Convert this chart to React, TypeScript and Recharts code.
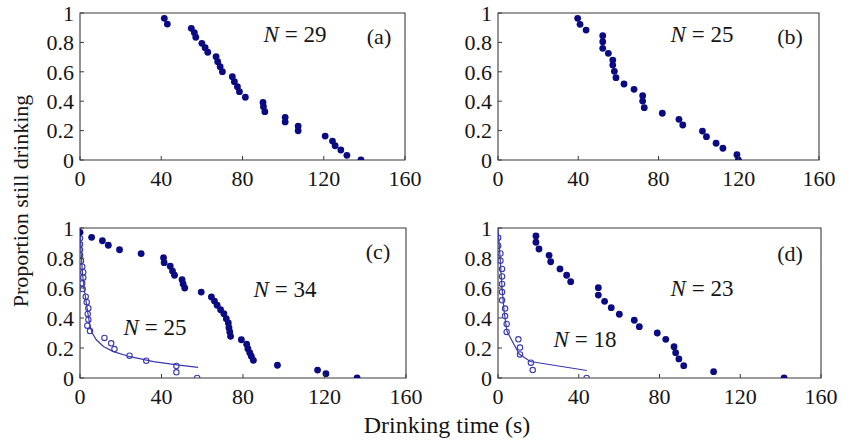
import React from 'react';
import { ScatterChart, Scatter, XAxis, YAxis, ReferenceArea } from 'recharts';

const FONT = '"Liberation Serif", "Times New Roman", serif';
const NAVY = '#0a0a82';
const BLUE = '#3a3aae';
const INK = '#151515';
const FRAME = '#3a3a3a';

const xTicks = [0, 40, 80, 120, 160];
const yTicks = [0, 0.2, 0.4, 0.6, 0.8, 1];

// Panel (a) N = 29
const aTime = [41.5, 43.0, 54.8, 56.3, 57.0, 60.0, 61.6, 62.9, 67.0, 67.8, 69.0, 70.1, 75.0, 76.0, 77.5, 78.5, 81.4, 90.1, 90.3, 91.0, 101.0, 101.0, 107.4, 107.4, 120.7, 124.3, 125.6, 128.4, 131.4, 138.3];
const aProp = [0.964, 0.925, 0.896, 0.866, 0.835, 0.794, 0.764, 0.733, 0.703, 0.669, 0.635, 0.601, 0.567, 0.533, 0.499, 0.465, 0.427, 0.392, 0.363, 0.329, 0.29, 0.259, 0.231, 0.199, 0.163, 0.129, 0.097, 0.068, 0.032, 0];

// Panel (b) N = 25
const bTime = [39.7, 40.9, 43.9, 52.2, 52.2, 52.2, 55.0, 57.2, 57.2, 58.0, 58.8, 62.8, 67.8, 72.1, 72.1, 72.9, 81.9, 90.2, 92.1, 101.9, 103.9, 108.7, 112.1, 119.1, 119.8];
const bProp = [0.964, 0.923, 0.884, 0.846, 0.805, 0.76, 0.726, 0.68, 0.646, 0.603, 0.56, 0.517, 0.481, 0.437, 0.401, 0.356, 0.318, 0.277, 0.238, 0.197, 0.159, 0.114, 0.08, 0.036, 0];

// Panel (c) filled, N = 34
const cTime = [0, 5.7, 11.0, 13.9, 19.4, 30.0, 41.0, 41.3, 44.3, 45.4, 46.4, 50.1, 50.6, 51.4, 59.5, 64.5, 66.0, 67.3, 69.0, 70.6, 71.8, 72.8, 73.1, 73.5, 73.9, 79.2, 81.8, 82.4, 83.3, 84.1, 85.1, 96.9, 116.6, 120.7, 136.0];
const cProp = [0.971, 0.938, 0.915, 0.885, 0.855, 0.829, 0.802, 0.769, 0.745, 0.713, 0.685, 0.655, 0.627, 0.6, 0.573, 0.54, 0.513, 0.485, 0.455, 0.429, 0.395, 0.367, 0.335, 0.307, 0.278, 0.255, 0.225, 0.195, 0.169, 0.145, 0.118, 0.085, 0.053, 0.029, 0];

// Panel (c) open, N = 25
const cOpenTime = [0, 0, 0, 0, 0.5, 1.1, 1.6, 1.6, 1.1, 1.3, 2.8, 3.3, 4.1, 3.8, 4.1, 3.6, 4.9, 12.0, 15.3, 16.9, 24.3, 32.5, 47.3, 47.3, 57.5];
const cOpenProp = [0.931, 0.891, 0.855, 0.82, 0.78, 0.742, 0.705, 0.669, 0.631, 0.593, 0.542, 0.505, 0.465, 0.427, 0.389, 0.349, 0.313, 0.267, 0.231, 0.193, 0.149, 0.115, 0.08, 0.038, 0];

// Panel (c) fitted curve
const cFitTime = [0, 0.5, 1, 1.5, 2, 3, 4, 4.8, 6, 8, 11.5, 16.4, 24.6, 36.1, 47.6, 58];
const cFitProp = [1, 0.85, 0.74, 0.66, 0.6, 0.51, 0.42, 0.355, 0.3, 0.255, 0.21, 0.176, 0.142, 0.109, 0.087, 0.071];

// Panel (d) filled, N = 23
const dTime = [18.8, 18.8, 20.3, 25.3, 26.1, 30.7, 34.0, 36.0, 49.7, 49.7, 52.8, 56.1, 60.1, 67.5, 70.0, 78.9, 83.1, 87.2, 88.0, 89.6, 92.0, 106.8, 141.7];
const dProp = [0.947, 0.905, 0.86, 0.818, 0.775, 0.727, 0.685, 0.642, 0.602, 0.553, 0.511, 0.469, 0.425, 0.385, 0.342, 0.3, 0.258, 0.209, 0.169, 0.127, 0.082, 0.042, 0];

// Panel (d) open, N = 18
const dOpenTime = [0.1, 0.1, 1.2, 1.2, 2.0, 2.0, 2.0, 2.0, 2.0, 3.5, 3.5, 4.3, 4.3, 10.1, 10.9, 10.9, 16.3, 17.2, 43.9];
const dOpenProp = [0.935, 0.882, 0.83, 0.782, 0.727, 0.677, 0.627, 0.573, 0.518, 0.463, 0.413, 0.36, 0.307, 0.258, 0.203, 0.157, 0.102, 0.053, 0];

// Panel (d) fitted curve
const dFitTime = [0, 0.8, 1.5, 2.2, 3, 3.8, 4.5, 10.5, 16, 44];
const dFitProp = [1, 0.85, 0.7, 0.57, 0.45, 0.37, 0.31, 0.16, 0.11, 0.05];

const pts = (xs: number[], ys: number[]) => xs.map((x, i) => ({ x, y: ys[i] }));

const X_MARGIN = 10;
const Y_MARGIN = 6;
const TICK_FS = 22;

const XTick = (props: any) => {
  const { x, y, payload } = props;
  const ay = y - X_MARGIN;
  return (
    <g>
      <line x1={x} x2={x} y1={ay} y2={ay - 4} stroke={FRAME} strokeWidth={1} />
      <text x={x} y={y} dy="0.71em" textAnchor="middle" fontFamily={FONT} fontSize={TICK_FS} fill={INK}>
        {payload.value}
      </text>
    </g>
  );
};

const YTick = (props: any) => {
  const { x, y, payload } = props;
  const ax = x + Y_MARGIN;
  return (
    <g>
      <line x1={ax} x2={ax + 4} y1={y} y2={y} stroke={FRAME} strokeWidth={1} />
      <text x={x} y={y} dy="0.355em" textAnchor="end" fontFamily={FONT} fontSize={TICK_FS} fill={INK}>
        {payload.value}
      </text>
    </g>
  );
};

const FilledDot = (p: any) => <circle cx={p.cx} cy={p.cy} r={3.4} fill={NAVY} />;
const OpenDot = (p: any) => <circle cx={p.cx} cy={p.cy} r={2.7} fill="none" stroke={BLUE} strokeWidth={1.1} />;
const NoDot = () => <g />;

const YW = 52;
const MT = 12;
const MR = 22;
const XH = 36;

function Panel(props: { left: number; top: number; w: number; h: number; children: React.ReactNode }) {
  const { left, top, w, h, children } = props;
  return (
    <div style={{ position: 'absolute', left: left - YW, top: top - MT }}>
      <ScatterChart width={YW + w + MR} height={MT + h + XH} margin={{ top: MT, right: MR, bottom: 0, left: 0 }}>
        <XAxis
          type="number"
          dataKey="x"
          domain={[0, 160]}
          ticks={xTicks}
          interval={0}
          tickSize={0}
          tickMargin={X_MARGIN}
          tick={<XTick />}
          axisLine={false}
          height={XH}
          allowDataOverflow
        />
        <YAxis
          type="number"
          dataKey="y"
          domain={[0, 1]}
          ticks={yTicks}
          interval={0}
          tickSize={0}
          tickMargin={Y_MARGIN}
          tick={<YTick />}
          axisLine={false}
          width={YW}
          allowDataOverflow
        />
        <ReferenceArea x1={0} x2={160} y1={0} y2={1} fill="none" stroke={FRAME} strokeWidth={1.1} fillOpacity={0} ifOverflow="visible" />
        {children}
      </ScatterChart>
    </div>
  );
}

const Label = (props: { x: number; y: number; children: React.ReactNode; size?: number }) => (
  <div
    style={{
      position: 'absolute',
      left: props.x,
      top: props.y,
      transform: 'translate(-50%, -50%)',
      whiteSpace: 'nowrap',
      fontSize: props.size ?? 22,
      lineHeight: 1,
      color: INK,
    }}
  >
    {props.children}
  </div>
);

const NLabel = (props: { x: number; y: number; n: string }) => (
  <Label x={props.x} y={props.y} size={23}>
    <span style={{ fontStyle: 'italic' }}>N</span> = {props.n}
  </Label>
);

export default function App() {
  return (
    <div style={{ position: 'absolute', left: 0, top: 0, width: 842, height: 443, background: '#fff', fontFamily: FONT, overflow: 'hidden' }}>
      <Panel left={80} top={13} w={325} h={147}>
        <Scatter data={pts(aTime, aProp)} shape={FilledDot} isAnimationActive={false} />
      </Panel>
      <Panel left={498} top={13} w={321} h={147}>
        <Scatter data={pts(bTime, bProp)} shape={FilledDot} isAnimationActive={false} />
      </Panel>
      <Panel left={80} top={228} w={326} h={150}>
        <Scatter data={pts(cFitTime, cFitProp)} shape={NoDot} line={{ stroke: BLUE, strokeWidth: 1.2 }} isAnimationActive={false} />
        <Scatter data={pts(cOpenTime, cOpenProp)} shape={OpenDot} isAnimationActive={false} />
        <Scatter data={pts(cTime, cProp)} shape={FilledDot} isAnimationActive={false} />
      </Panel>
      <Panel left={498} top={228} w={323} h={150}>
        <Scatter data={pts(dFitTime, dFitProp)} shape={NoDot} line={{ stroke: BLUE, strokeWidth: 1.2 }} isAnimationActive={false} />
        <Scatter data={pts(dOpenTime, dOpenProp)} shape={OpenDot} isAnimationActive={false} />
        <Scatter data={pts(dTime, dProp)} shape={FilledDot} isAnimationActive={false} />
      </Panel>

      <NLabel x={295} y={34} n="29" />
      <Label x={379} y={37}>(a)</Label>
      <NLabel x={702} y={34} n="25" />
      <Label x={790} y={37}>(b)</Label>
      <NLabel x={285} y={289} n="34" />
      <NLabel x={155} y={327} n="25" />
      <Label x={378} y={252}>(c)</Label>
      <NLabel x={702} y={288} n="23" />
      <NLabel x={585} y={339} n="18" />
      <Label x={790} y={254}>(d)</Label>

      <Label x={447} y={425} size={24}>Drinking time (s)</Label>
      <div
        style={{
          position: 'absolute',
          left: 21,
          top: 201,
          transform: 'translate(-50%, -50%) rotate(-90deg)',
          whiteSpace: 'nowrap',
          fontSize: 22,
          lineHeight: 1,
          color: INK,
        }}
      >
        Proportion still drinking
      </div>
    </div>
  );
}
